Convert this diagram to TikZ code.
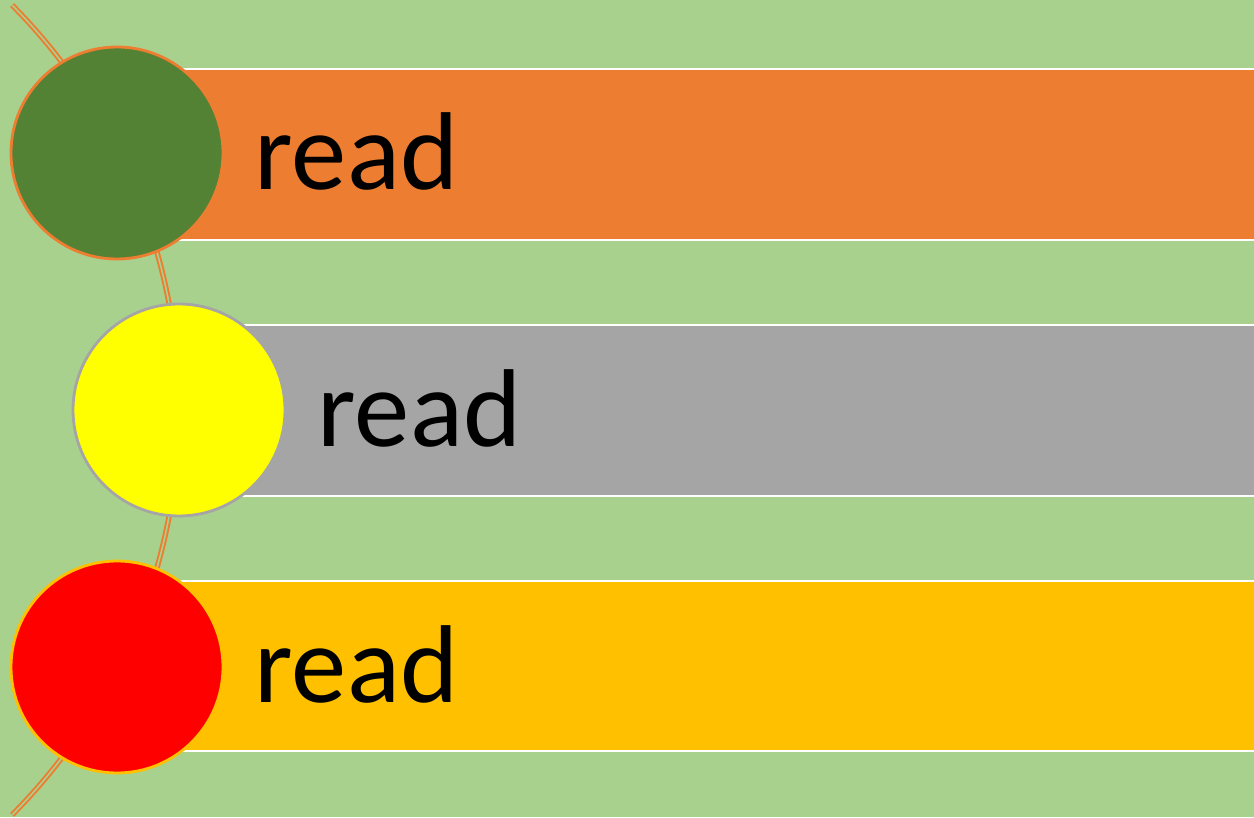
\documentclass[tikz,border=0pt]{standalone}
\usepackage{fontspec}
\setmainfont{Carlito}
\definecolor{bggreen}{HTML}{A9D18E}
\definecolor{barorange}{HTML}{ED7D31}
\definecolor{bargray}{HTML}{A5A5A5}
\definecolor{bargold}{HTML}{FFC000}
\definecolor{dotgreen}{HTML}{548235}
\definecolor{dotyellow}{HTML}{FFFF00}
\definecolor{dotred}{HTML}{FF0000}
\begin{document}
\begin{tikzpicture}[
	dot/.style={circle,minimum size=2.12cm,inner sep=0pt,line width=0.8pt},
	label/.style={anchor=base west,inner sep=0pt,font=\fontsize{31.5}{37}\selectfont},
	edgeline/.style={white,line width=0.7pt}]
		
		\fill[bggreen] (0,0) rectangle (12.54,8.17);
		\useasboundingbox (0,0) rectangle (12.54,8.17);
		
		\draw[barorange,double=bggreen,double distance=0.45pt,line width=0.55pt] ([shift={(44.8:5.746)}]-3.956,4.07) arc (44.8:-44.8:5.746);
		
		\fill[barorange] (1.17,5.77) rectangle (12.54,7.48);
		\draw[edgeline] (1.17,7.48) -- (12.54,7.48);
		\draw[edgeline] (1.17,5.77) -- (12.54,5.77);
		\fill[bargray] (1.79,3.21) rectangle (12.54,4.92);
		\draw[edgeline] (1.79,4.92) -- (12.54,4.92);
		\draw[edgeline] (1.79,3.21) -- (12.54,3.21);
		\fill[bargold] (1.17,0.66) rectangle (12.54,2.36);
		\draw[edgeline] (1.17,2.36) -- (12.54,2.36);
		\draw[edgeline] (1.17,0.66) -- (12.54,0.66);
		
		\node[dot,fill=dotgreen,draw=barorange] (c1) at (1.17,6.64) {};
		\node[dot,fill=dotyellow,draw=bargray] (c2) at (1.79,4.07) {};
		\node[dot,fill=dotred,draw=bargold] (c3) at (1.17,1.50) {};
		
		\node[label] (t1) at (2.54,8.17-1.90) {read};
		\node[label] (t2) at (3.17,8.17-4.47) {read};
		\node[label] (t3) at (2.54,8.17-7.02) {read};
		\end{tikzpicture}
\end{document}
